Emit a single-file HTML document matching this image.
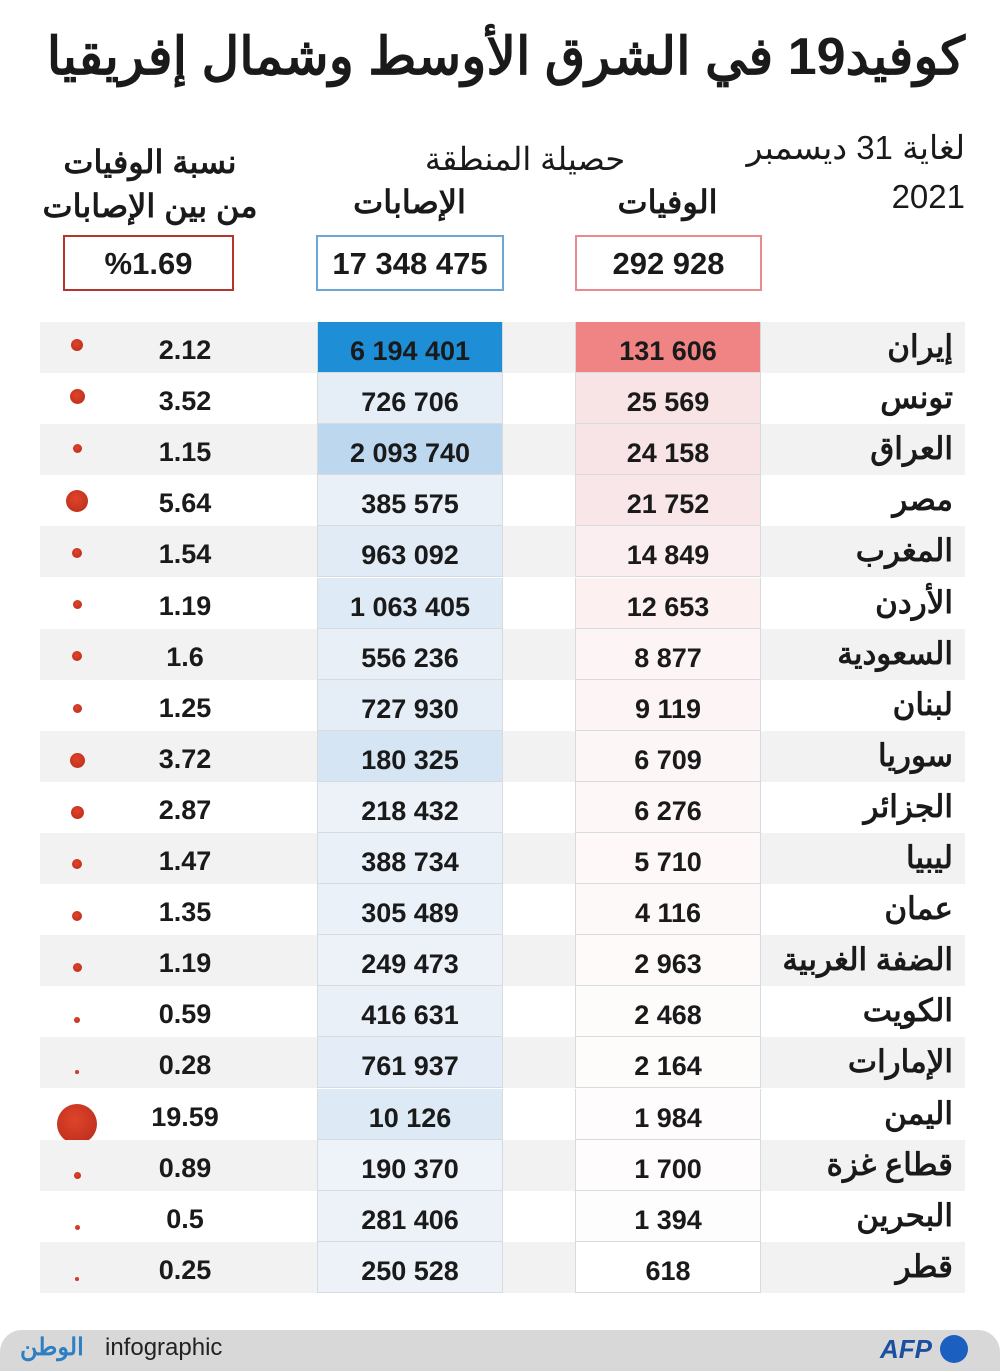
<!DOCTYPE html>
<html><head><meta charset="utf-8"><style>
body{margin:0;width:1000px;height:1371px;background:#fff;position:relative;overflow:hidden;font-family:"Liberation Sans","Noto Sans CJK SC",sans-serif;color:#1a1a1a}
.a{position:absolute}
.t{font-weight:bold;white-space:nowrap}
.row{position:absolute;left:40px;width:925px;height:51px}
.cell{position:absolute;height:51px;box-sizing:border-box;border-left:1px solid #d6dbe0;border-right:1px solid #d6dbe0;border-bottom:1px solid #d6dbe0;text-align:center;font-weight:bold;font-size:27px;line-height:58px;letter-spacing:0}
.pct{position:absolute;width:120px;left:125px;text-align:center;font-weight:bold;font-size:27px;line-height:56px;letter-spacing:0}
.name{position:absolute;right:47px;font-weight:bold;font-size:31px;line-height:50px;direction:rtl}
.dot{position:absolute;border-radius:50%;background:radial-gradient(circle at 45% 40%,#e0442a,#b52a1a)}
</style></head><body>
<div class="a t" style="right:35px;top:27px;font-size:52px;direction:rtl">كوفيد19 في الشرق الأوسط وشمال إفريقيا</div>
<div class="a" style="right:35px;top:128px;font-size:33px;direction:rtl">لغاية 31 ديسمبر</div>
<div class="a" style="right:35px;top:178px;font-size:33px">2021</div>
<div class="a" style="left:410px;width:230px;text-align:center;top:140px;font-size:32px;direction:rtl">حصيلة المنطقة</div>
<div class="a t" style="left:575px;width:185px;text-align:center;top:183px;font-size:32px">الوفيات</div>
<div class="a t" style="left:317px;width:185px;text-align:center;top:183px;font-size:32px">الإصابات</div>
<div class="a t" style="left:15px;width:270px;text-align:center;top:140px;font-size:32px;direction:rtl;line-height:44px">نسبة الوفيات<br>من بين الإصابات</div>
<div class="a t" style="left:63px;top:235px;width:167px;height:52px;border:2px solid #b5352a;text-align:center;font-size:31px;line-height:54px">%1.69</div>
<div class="a t" style="left:316px;top:235px;width:184px;height:52px;border:2px solid #6ea4d6;text-align:center;font-size:31px;line-height:54px">17 348 475</div>
<div class="a t" style="left:575px;top:235px;width:183px;height:52px;border:2px solid #e88a8e;text-align:center;font-size:31px;line-height:54px">292 928</div>
<div id="rows"></div>
<div class="a" style="left:0;top:1330px;width:1000px;height:41px;background:#d8d8d8;border-radius:22px 22px 0 0"></div>
<div class="a t" style="left:20px;top:1333px;font-size:24px;color:#2e7fc1;direction:rtl">الوطن</div>
<div class="a" style="left:105px;top:1334px;font-size:24px;color:#222">infographic</div>
<div class="a t" style="left:880px;top:1334px;font-size:26px;color:#1b4fa0;font-style:italic">AFP</div>
<div class="a" style="left:940px;top:1335px;width:28px;height:28px;border-radius:50%;background:#1b5fc0"></div>
<script>
var d=[["إيران","131 606","6 194 401","2.12",6,"#f08383","#1e8fd6"],
["تونس","25 569","726 706","3.52",7.5,"#f8e3e5","#e5eef7"],
["العراق","24 158","2 093 740","1.15",4.5,"#f8e4e6","#bcd7ee"],
["مصر","21 752","385 575","5.64",11,"#f9e6e8","#e9f0f8"],
["المغرب","14 849","963 092","1.54",5,"#fbeef0","#e1ebf6"],
["الأردن","12 653","1 063 405","1.19",4.5,"#fcf0f1","#deeaf5"],
["السعودية","8 877","556 236","1.6",5,"#fdf4f5","#e8eff7"],
["لبنان","9 119","727 930","1.25",4.5,"#fdf4f5","#e5eef7"],
["سوريا","6 709","180 325","3.72",7.5,"#fdf6f7","#d5e5f3"],
["الجزائر","6 276","218 432","2.87",6.5,"#fdf7f7","#edf2f8"],
["ليبيا","5 710","388 734","1.47",5,"#fef8f8","#e9f0f8"],
["عمان","4 116","305 489","1.35",5,"#fef9f9","#ebf1f8"],
["الضفة الغربية","2 963","249 473","1.19",4.5,"#fefafa","#edf2f8"],
["الكويت","2 468","416 631","0.59",3,"#fefbfb","#e9f0f8"],
["الإمارات","2 164","761 937","0.28",2,"#fefbfb","#e4edf7"],
["اليمن","1 984","10 126","19.59",20,"#fefcfc","#dde9f5"],
["قطاع غزة","1 700","190 370","0.89",3.5,"#fefcfc","#eef3f9"],
["البحرين","1 394","281 406","0.5",2.5,"#fefdfd","#edf2f8"],
["قطر","618","250 528","0.25",2,"#ffffff","#edf2f8"]];
var h="";
for(var i=0;i<d.length;i++){var y=322+i*51.1,r=d[i];
h+='<div class="row" style="top:'+y+'px;background:'+(i%2==0?'#f2f2f2':'#fff')+'"></div>';
h+='<div class="cell" style="left:317px;width:186px;top:'+y+'px;background:'+r[6]+'">'+r[2]+'</div>';
h+='<div class="cell" style="left:575px;width:186px;top:'+y+'px;background:'+r[5]+'">'+r[1]+'</div>';
h+='<div class="pct" style="top:'+y+'px">'+r[3]+'</div>';
h+='<div class="name" style="top:'+y+'px">'+r[0]+'</div>';
var cy=345+i*51.9,s=r[4];
h+='<div class="dot" style="left:'+(77-s)+'px;top:'+(cy-s)+'px;width:'+(2*s)+'px;height:'+(2*s)+'px"></div>';}
document.getElementById("rows").innerHTML=h;
</script>
</body></html>
